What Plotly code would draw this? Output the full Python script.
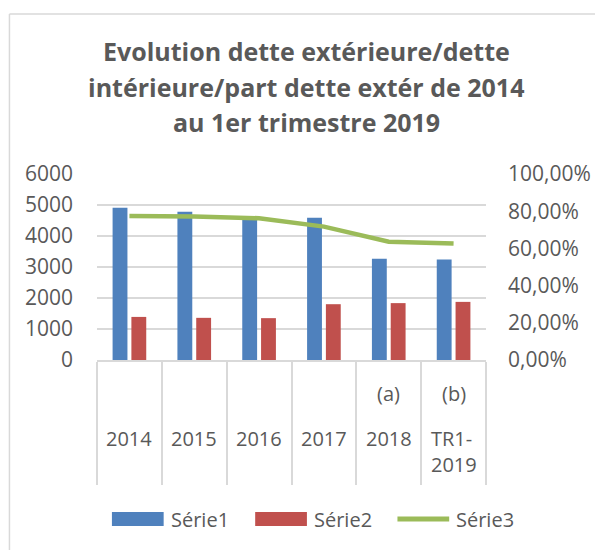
import plotly.graph_objects as go

# ---------------- data ----------------
categories = ["2014", "2015", "2016", "2017", "2018 (a)", "TR1-2019 (b)"]
label_top = ["", "", "", "", "(a)", "(b)"]
label_main = ["2014", "2015", "2016", "2017", "2018", "TR1-<br>2019"]
serie1 = [4910, 4780, 4620, 4590, 3270, 3240]
serie2 = [1390, 1360, 1350, 1800, 1835, 1875]
serie3 = [0.774, 0.772, 0.762, 0.717, 0.636, 0.627]
series_names = ["Série1", "Série2", "Série3"]
title_lines = ["Evolution dette extérieure/dette",
               "intérieure/part dette extér de 2014",
               "au 1er trimestre 2019"]

# ---------------- layout helpers ----------------
# the page adds an 8px body margin, so the figure is drawn 8px smaller and shifted
OFF = 8
W, H = 603 - OFF, 550 - OFF
L, R, T, B = 97 - OFF, 488 - OFF, 174 - OFF, 360 - OFF
PW, PH = R - L, B - T
def px(x):  # x given in window pixels
    return (x - OFF - L) / PW
def py(y):
    return (B - (y - OFF)) / PH

BLUE, RED, GREEN = "#4F81BD", "#C0504D", "#9BBB59"
TXT = "#595959"
GRID = "#D9D9D9"
FONT = "Open Sans"

fig = go.Figure()
fig.add_trace(go.Bar(x=categories, y=serie1, name=series_names[0],
                     marker=dict(color=BLUE, line=dict(width=0)), showlegend=False))
fig.add_trace(go.Bar(x=categories, y=serie2, name=series_names[1],
                     marker=dict(color=RED, line=dict(width=0)), showlegend=False))
fig.add_trace(go.Scatter(x=categories, y=serie3, name=series_names[2], yaxis="y2",
                         mode="lines", line=dict(color=GREEN, width=4.5),
                         showlegend=False))

annotations = []
for i, t in enumerate(title_lines):
    annotations.append(dict(text="<b>%s</b>" % t, x=px(307.5), y=py([51, 86.5, 122][i]),
                            xref="paper", yref="paper", xanchor="center", yanchor="middle",
                            showarrow=False, font=dict(family=FONT, size=25, color=TXT)))
for i, (a, m) in enumerate(zip(label_top, label_main)):
    if a:
        annotations.append(dict(text=a, x=i, xref="x", y=py(393), yref="paper",
                                xanchor="center", yanchor="middle", showarrow=False,
                                font=dict(family=FONT, size=20, color=TXT)))
    nlines = m.count("<br>") + 1
    annotations.append(dict(text=m, x=i, xref="x", y=py(438.5 + 12.5 * (nlines - 1)),
                            yref="paper", xanchor="center", yanchor="middle", align="left",
                            showarrow=False, font=dict(family=FONT, size=20, color=TXT)))

shapes = [
    dict(type="line", xref="paper", yref="paper", x0=px(9), x1=px(603), y0=py(14), y1=py(14),
         line=dict(color=GRID, width=1.5)),
    dict(type="line", xref="paper", yref="paper", x0=px(9), x1=px(9), y0=py(14), y1=py(550),
         line=dict(color=GRID, width=1.5)),
]
# custom legend
leg = [(112, 164, 169, BLUE, "rect"), (256, 308, 313, RED, "rect"), (397, 453, 456, GREEN, "line")]
for (x0, x1, tx, col, kind), name in zip(leg, series_names):
    if kind == "rect":
        shapes.append(dict(type="rect", xref="paper", yref="paper", x0=px(x0), x1=px(x1),
                           y0=py(526), y1=py(512), fillcolor=col, line=dict(width=0)))
    else:
        shapes.append(dict(type="line", xref="paper", yref="paper", x0=px(x0 + 2), x1=px(x1 - 2),
                           y0=py(519), y1=py(519), line=dict(color=col, width=5)))
    annotations.append(dict(text=name, x=px(tx), y=py(519), xref="paper", yref="paper",
                            xanchor="left", yanchor="middle", showarrow=False,
                            font=dict(family=FONT, size=20, color=TXT)))

fig.update_layout(
    width=W, height=H,
    margin=dict(l=L, r=W - R, t=T, b=H - B, pad=0),
    paper_bgcolor="white", plot_bgcolor="white",
    separators=", ",
    barmode="group", bargap=0.42, bargroupgap=0.21,
    font=dict(family=FONT, color=TXT),
    xaxis=dict(type="category", showticklabels=False, showgrid=False,
               ticks="outside", tickson="boundaries", ticklen=123, tickcolor=GRID, tickwidth=1.5,
               showline=True, linecolor=GRID, linewidth=1.5, zeroline=False,
               range=[-0.5, 5.5]),
    yaxis=dict(range=[0, 6000], dtick=1000, tickformat="d", showgrid=True, gridcolor=GRID,
               gridwidth=1.5, zeroline=False, showline=False, ticks="",
               ticklabelstandoff=23, tickfont=dict(family=FONT, size=21, color=TXT)),
    yaxis2=dict(range=[0, 1], dtick=0.2, tickformat=".2%", overlaying="y", side="right",
                showgrid=False, zeroline=False, showline=False, ticks="",
                ticklabelstandoff=21, tickfont=dict(family=FONT, size=21, color=TXT)),
    annotations=annotations, shapes=shapes, showlegend=False,
)

fig.write_html("out.html")
